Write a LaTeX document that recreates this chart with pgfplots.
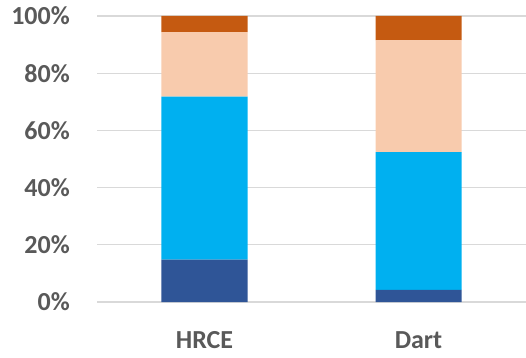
\documentclass[border=0pt]{standalone}
\usepackage{fontspec}
\setmainfont{Carlito}
\usepackage{pgfplots}
\pgfplotsset{compat=1.18}
\definecolor{dblue}{HTML}{2F5597}
\definecolor{lblue}{HTML}{00B0F0}
\definecolor{peach}{HTML}{F8CBAD}
\definecolor{dorange}{HTML}{C55A11}
\definecolor{gridgray}{HTML}{D9D9D9}
\definecolor{labelgray}{HTML}{595959}
\begin{document}
\begin{tikzpicture}
\begin{axis}[
  at={(0,0)}, anchor=south west,
  scale only axis, width=428bp, height=286bp,
  xmin=-0.5, xmax=1.5, ymin=0, ymax=100,
  axis line style={draw=none},
  tick style={draw=none},
  ymajorgrids, grid style={color=gridgray, line width=1.1bp},
  xtick={0,1}, xticklabels={HRCE,Dart},
  ytick={0,20,40,60,80,100},
  yticklabels={0\%,20\%,40\%,60\%,80\%,100\%},
  ticklabel style={font=\fontsize{26bp}{30bp}\selectfont\bfseries, text=labelgray, inner sep=0pt},
  yticklabel style={anchor=east, xshift=-27.5bp},
  xticklabel style={anchor=base, yshift=-46bp},
  ybar stacked, bar width=86bp,
]
\addplot[fill=dblue, draw=none] coordinates {(0,14.8) (1,4.2)};
\addplot[fill=lblue, draw=none] coordinates {(0,57.0) (1,48.2)};
\addplot[fill=peach, draw=none] coordinates {(0,22.6) (1,39.2)};
\addplot[fill=dorange, draw=none] coordinates {(0,5.6) (1,8.4)};
\end{axis}
\pgfresetboundingbox
\path[use as bounding box] (-97.5bp,-56bp) rectangle (428.5bp,302bp);
\end{tikzpicture}
\end{document}
